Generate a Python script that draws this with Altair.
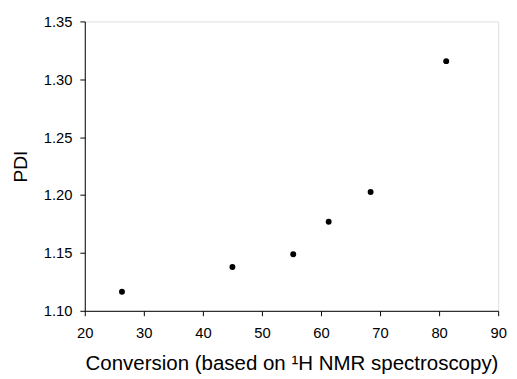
import altair as alt
import pandas as pd

conversion = [26.3, 45.0, 55.3, 61.3, 68.4, 81.2]
pdi = [1.1165, 1.1378, 1.1488, 1.1769, 1.2026, 1.3157]
x_ticks = [20, 30, 40, 50, 60, 70, 80, 90]
y_ticks = [1.10, 1.15, 1.20, 1.25, 1.30, 1.35]

df = pd.DataFrame({"conversion": conversion, "pdi": pdi})

font = "Liberation Sans"

chart = (
    alt.Chart(df)
    .mark_circle(size=36, color="black", opacity=1)
    .encode(
        x=alt.X(
            "conversion:Q",
            scale=alt.Scale(domain=[20, 90], nice=False, zero=False),
            axis=alt.Axis(
                values=x_ticks,
                title="Conversion (based on ¹H NMR spectroscopy)",
                titleFontSize=20.8,
                titleFont=font,
                titleFontWeight="normal",
                titleColor="black",
                titleBaseline="alphabetic",
                titleY=59.3,
                labelFontSize=15,
                labelFont=font,
                labelColor="black",
                labelPadding=10.5,
                tickSize=5,
                tickColor="black",
                domainColor="black",
                grid=False,
                labelFlush=False,
            ),
        ),
        y=alt.Y(
            "pdi:Q",
            scale=alt.Scale(domain=[1.10, 1.35], nice=False, zero=False),
            axis=alt.Axis(
                values=y_ticks,
                format=".2f",
                title="PDI",
                titleFontSize=19.5,
                titleFont=font,
                titleFontWeight="normal",
                titleColor="black",
                titleBaseline="alphabetic",
                titleX=-59.3,
                titleAngle=270,
                labelFontSize=15,
                labelFont=font,
                labelColor="black",
                labelPadding=8,
                tickSize=5,
                tickColor="black",
                domainColor="black",
                grid=False,
                labelFlush=False,
            ),
        ),
    )
    .properties(
        width=420,
        height=294,
        autosize=alt.AutoSizeParams(type="none"),
        padding={"left": 78, "top": 10.7, "right": 11, "bottom": 65},
    )
    .configure_view(stroke="black", strokeWidth=1)
    .configure(background="white")
)

chart.save("out.html", embed_options={"renderer": "svg", "actions": False})
